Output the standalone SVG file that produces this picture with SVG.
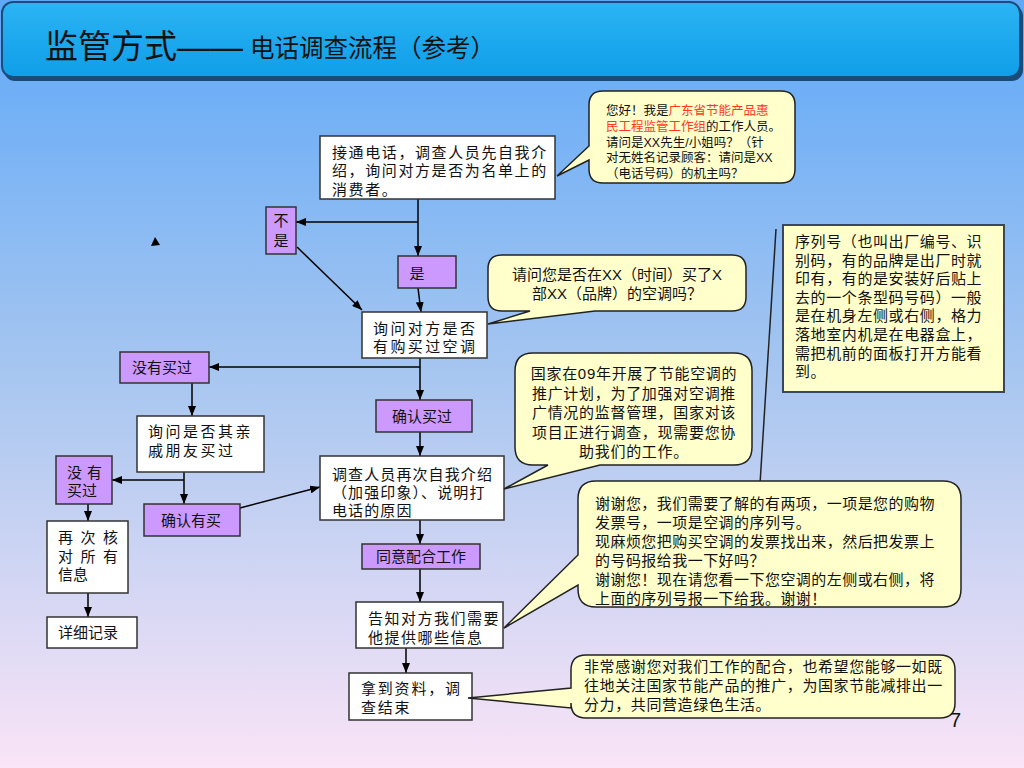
<svg xmlns="http://www.w3.org/2000/svg" width="1024" height="768" viewBox="0 0 1024 768">
<defs>
<linearGradient id="bg" x1="0" y1="0" x2="0" y2="1">
<stop offset="0" stop-color="#5ea8f8"/>
<stop offset="0.5" stop-color="#a9c7f0"/>
<stop offset="1" stop-color="#fae4f7"/>
</linearGradient>
<linearGradient id="bar" x1="0" y1="0" x2="0" y2="1">
<stop offset="0" stop-color="#2cb4f4"/>
<stop offset="1" stop-color="#0f9ee8"/>
</linearGradient>
<marker id="ah" viewBox="0 0 10 8" refX="10" refY="4" markerWidth="10" markerHeight="8" markerUnits="userSpaceOnUse" orient="auto"><path d="M0,0 L10,4 L0,8 z" fill="#000"/></marker>
</defs>
<style>
.t{font-family:"Liberation Sans","Noto Sans CJK SC",sans-serif;font-size:15px;fill:#111}
.s{font-size:12.5px}
.m{text-anchor:middle}
.box{fill:#fff;stroke:#333;stroke-width:1.5}
.pb{fill:#cc99ff;stroke:#333;stroke-width:1.5}
.co{fill:#ffffcc;stroke:#222;stroke-width:1.5}
.red{fill:#ff3a1a}
#connectors line,#connectors polyline{stroke:#000;stroke-width:1.5;fill:none}
.a{marker-end:url(#ah)}
</style>
<rect x="0" y="0" width="1024" height="768" fill="url(#bg)"/>
<g id="title">
<rect x="4" y="5" width="1019" height="76" rx="11" fill="#1c4a78"/>
<rect x="2" y="2" width="1018" height="75" rx="11" fill="url(#bar)" stroke="#1b4c7c" stroke-width="2"/>
<text class="t" x="45" y="58" style="font-size:33px">监管方式——</text>
<text class="t" x="250" y="57" style="font-size:24.5px">电话调查流程（参考）</text>
</g>
<g id="connectors">
<line class="a" x1="418" y1="199" x2="418" y2="256"/>
<line class="a" x1="418" y1="222" x2="296" y2="222"/>
<line class="a" x1="297" y1="247" x2="362" y2="310"/>
<line class="a" x1="418" y1="288" x2="421" y2="312"/>
<line class="a" x1="420" y1="358" x2="420" y2="400"/>
<line class="a" x1="420" y1="367" x2="209" y2="367"/>
<line class="a" x1="192" y1="383" x2="192" y2="416"/>
<line class="a" x1="184" y1="472" x2="184" y2="504"/>
<line class="a" x1="184" y1="480" x2="112" y2="480"/>
<line class="a" x1="88" y1="504" x2="88" y2="521"/>
<line class="a" x1="88" y1="593" x2="88" y2="617"/>
<line class="a" x1="240" y1="508" x2="320" y2="487"/>
<line class="a" x1="420" y1="432" x2="420" y2="456"/>
<line class="a" x1="420" y1="520" x2="420" y2="544"/>
<line class="a" x1="420" y1="569" x2="420" y2="602"/>
<line class="a" x1="406" y1="648" x2="406" y2="673"/>
<line x1="776" y1="229" x2="760" y2="484" style="stroke:#222"/>
<polygon points="151,246 160,245 155,237" fill="#000"/>
</g>
<g id="n-start">
<rect class="box" x="320" y="136" width="235" height="63"/>
<text class="t" x="332" y="158" letter-spacing="1.6">接通电话，调查人员先自我介</text>
<text class="t" x="332" y="176" letter-spacing="1.6">绍，询问对方是否为名单上的</text>
<text class="t" x="332" y="195" letter-spacing="1.6">消费者。</text>
</g>
<g id="n-no">
<rect class="pb" x="266" y="207" width="30" height="47"/>
<text class="t m" x="281" y="226">不</text>
<text class="t m" x="281" y="246">是</text>
</g>
<g id="n-yes">
<rect class="pb" x="398" y="256" width="58" height="32"/>
<text class="t m" x="417" y="279">是</text>
</g>
<g id="n-ask">
<rect class="box" x="362" y="312" width="125" height="46"/>
<text class="t" x="373" y="334" letter-spacing="2.4">询问对方是否</text>
<text class="t" x="373" y="352" letter-spacing="2.4">有购买过空调</text>
</g>
<g id="n-notbought">
<rect class="pb" x="120" y="352" width="89" height="31"/>
<text class="t" x="132" y="373">没有买过</text>
</g>
<g id="n-bought">
<rect class="pb" x="376" y="400" width="96" height="32"/>
<text class="t m" x="422" y="422">确认买过</text>
</g>
<g id="n-relatives">
<rect class="box" x="137" y="416" width="127" height="56"/>
<text class="t" x="148" y="437" letter-spacing="2.5">询问是否其亲</text>
<text class="t" x="148" y="456" letter-spacing="2.5">戚朋友买过</text>
</g>
<g id="n-notbought2">
<rect class="pb" x="56" y="456" width="56" height="48"/>
<text class="t" x="67" y="478" letter-spacing="5">没有</text>
<text class="t" x="67" y="496">买过</text>
</g>
<g id="n-confirmed">
<rect class="pb" x="144" y="504" width="96" height="32"/>
<text class="t m" x="191" y="526">确认有买</text>
</g>
<g id="n-recheck">
<rect class="box" x="47" y="521" width="81" height="72"/>
<text class="t" x="58" y="543" letter-spacing="7.5">再次核</text>
<text class="t" x="58" y="562" letter-spacing="7.5">对所有</text>
<text class="t" x="58" y="580">信息</text>
</g>
<g id="n-record">
<rect class="box" x="47" y="617" width="90" height="31"/>
<text class="t" x="58" y="638">详细记录</text>
</g>
<g id="n-intro">
<rect class="box" x="320" y="456" width="184" height="64"/>
<text class="t" x="332" y="480" letter-spacing="1.1">调查人员再次自我介绍</text>
<text class="t" x="332" y="498" letter-spacing="1.1">（加强印象）、说明打</text>
<text class="t" x="332" y="516" letter-spacing="1.1">电话的原因</text>
</g>
<g id="n-agree">
<rect class="pb" x="362" y="544" width="118" height="25"/>
<text class="t m" x="421" y="562">同意配合工作</text>
</g>
<g id="n-inform">
<rect class="box" x="356" y="602" width="147" height="46"/>
<text class="t" x="368" y="624" letter-spacing="1.5">告知对方我们需要</text>
<text class="t" x="368" y="643" letter-spacing="1.5">他提供哪些信息</text>
</g>
<g id="n-end">
<rect class="box" x="349" y="673" width="123" height="47"/>
<text class="t" x="361" y="694" letter-spacing="1.8">拿到资料，调</text>
<text class="t" x="361" y="713" letter-spacing="1.8">查结束</text>
</g>
<g id="c-greeting">
<path class="co" d="M603,91 H781 Q795,91 795,105 V169 Q795,183 781,183 H603 Q589,183 589,169 V160 L557,176 L589,146 V105 Q589,91 603,91 Z"/>
<text class="t s" x="606" y="115">您好！我是<tspan class="red">广东省节能产品惠</tspan></text>
<text class="t s" x="606" y="131"><tspan class="red">民工程监管工作组</tspan>的工作人员。</text>
<text class="t s" x="606" y="147">请问是XX先生/小姐吗？（针</text>
<text class="t s" x="606" y="162">对无姓名记录顾客：请问是XX</text>
<text class="t s" x="606" y="178">（电话号码）的机主吗？</text>
</g>
<g id="c-purchase">
<path class="co" d="M502,255 H732 Q746,255 746,269 V297 Q746,311 732,311 H595 L488,324 L530,311 H502 Q488,311 488,297 V269 Q488,255 502,255 Z"/>
<text class="t m" x="617" y="280">请问您是否在XX（时间）买了X</text>
<text class="t m" x="617" y="299">部XX（品牌）的空调吗？</text>
</g>
<g id="c-serial">
<rect x="783" y="225" width="221" height="167" fill="#ffffcc" stroke="#3a4660" stroke-width="2"/>
<text class="t" x="795" y="247" letter-spacing="0.6">序列号（也叫出厂编号、识</text>
<text class="t" x="795" y="265.6" letter-spacing="0.6">别码，有的品牌是出厂时就</text>
<text class="t" x="795" y="284.2" letter-spacing="0.6">印有，有的是安装好后贴上</text>
<text class="t" x="795" y="302.8" letter-spacing="0.6">去的一个条型码号码）一般</text>
<text class="t" x="795" y="321.4" letter-spacing="0.6">是在机身左侧或右侧，格力</text>
<text class="t" x="795" y="340" letter-spacing="0.6">落地室内机是在电器盒上，</text>
<text class="t" x="795" y="358.6" letter-spacing="0.6">需把机前的面板打开方能看</text>
<text class="t" x="795" y="377.2" letter-spacing="0.6">到。</text>
</g>
<g id="c-reason">
<path class="co" d="M533,353 H734 Q752,353 752,371 V447 Q752,465 734,465 H600 L504,489 L548,465 H533 Q515,465 515,447 V371 Q515,353 533,353 Z"/>
<text class="t m" x="634" y="379" letter-spacing="0.7">国家在09年开展了节能空调的</text>
<text class="t m" x="634" y="398.5" letter-spacing="0.7">推广计划，为了加强对空调推</text>
<text class="t m" x="634" y="418" letter-spacing="0.7">广情况的监督管理，国家对该</text>
<text class="t m" x="634" y="437.5" letter-spacing="0.7">项目正进行调查，现需要您协</text>
<text class="t m" x="634" y="457" letter-spacing="0.7">助我们的工作。</text>
</g>
<g id="c-info">
<path class="co" d="M596,481 H943 Q961,481 961,499 V589 Q961,607 943,607 H596 Q578,607 578,589 V585 L504,628 L578,555 V499 Q578,481 596,481 Z"/>
<text class="t" x="595" y="509" letter-spacing="0.45">谢谢您，我们需要了解的有两项，一项是您的购物</text>
<text class="t" x="595" y="528" letter-spacing="0.45">发票号，一项是空调的序列号。</text>
<text class="t" x="595" y="547" letter-spacing="0.45">现麻烦您把购买空调的发票找出来，然后把发票上</text>
<text class="t" x="595" y="566" letter-spacing="0.45">的号码报给我一下好吗？</text>
<text class="t" x="595" y="585" letter-spacing="0.45">谢谢您！现在请您看一下您空调的左侧或右侧，将</text>
<text class="t" x="595" y="604" letter-spacing="0.45">上面的序列号报一下给我。谢谢！</text>
</g>
<g id="c-thanks">
<path class="co" d="M586,655 H940 Q955,655 955,670 V703 Q955,718 940,718 H586 Q571,718 571,703 L571,708 L468,698 L571,688 V670 Q571,655 586,655 Z"/>
<text class="t" x="584" y="672" letter-spacing="0.6">非常感谢您对我们工作的配合，也希望您能够一如既</text>
<text class="t" x="584" y="691" letter-spacing="0.6">往地关注国家节能产品的推广，为国家节能减排出一</text>
<text class="t" x="584" y="710" letter-spacing="0.6">分力，共同营造绿色生活。</text>
</g>
<text class="t" x="961" y="727" style="font-size:20px;text-anchor:end">7</text>
</svg>
